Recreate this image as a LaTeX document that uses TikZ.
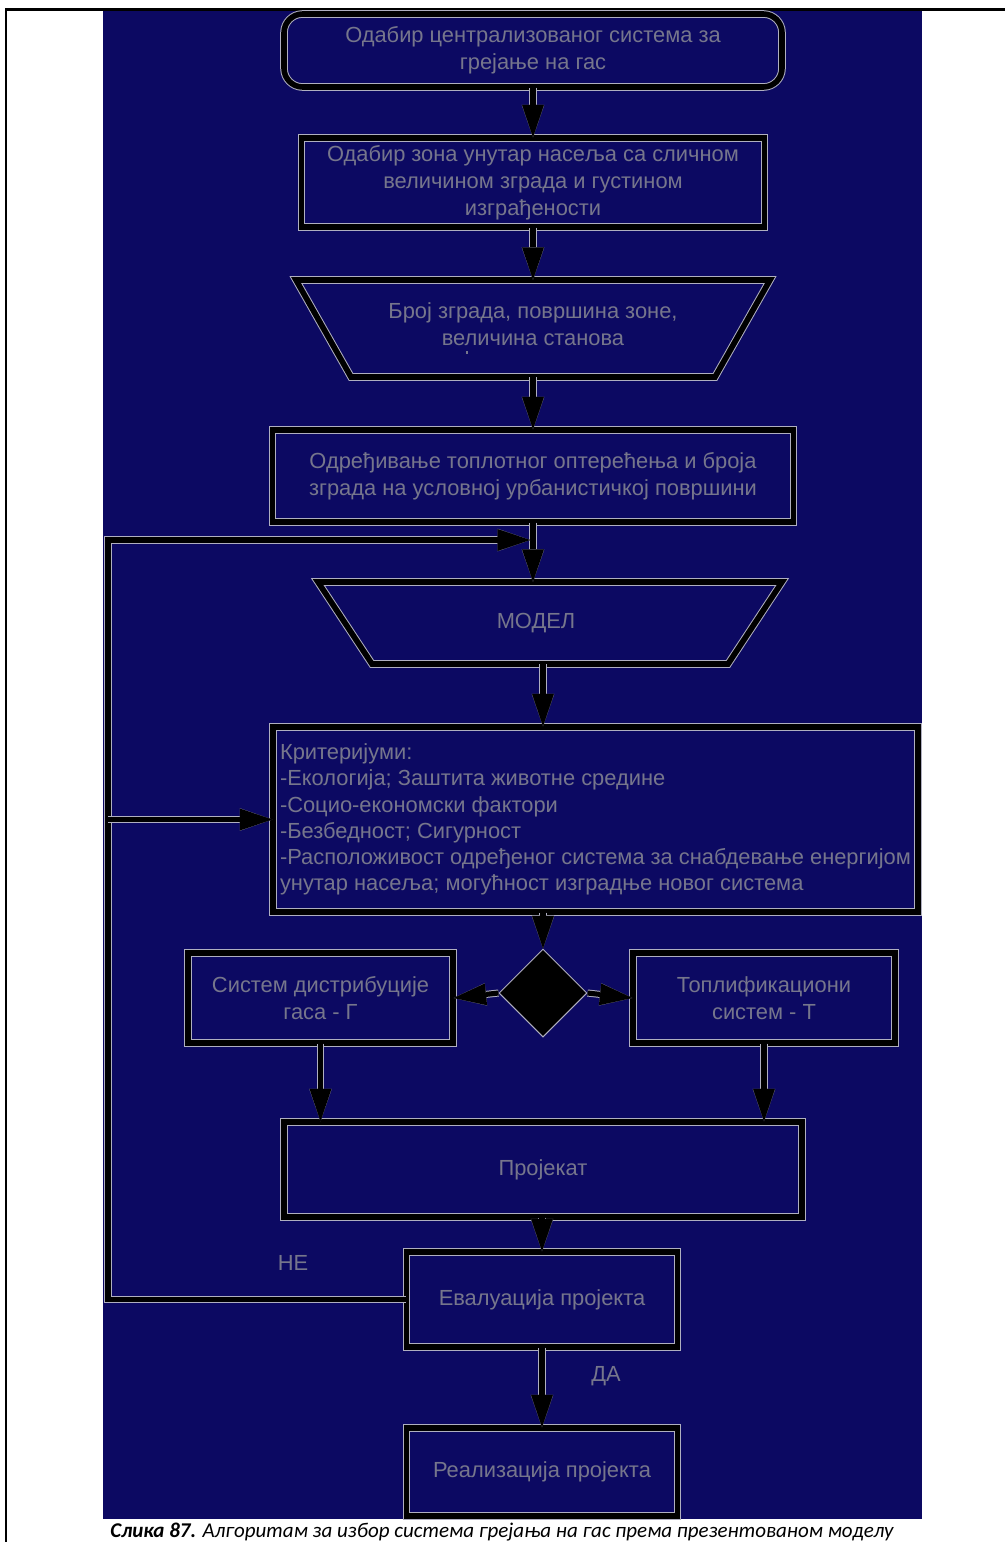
\documentclass[tikz,border=0pt]{standalone}
\usepackage{fontspec}
\setmainfont{Liberation Sans}
\newfontfamily\capfont{Carlito}
\usetikzlibrary{arrows.meta,shapes.geometric,calc}
\definecolor{navy}{RGB}{12,9,98}
\definecolor{edgegray}{RGB}{175,175,192}
\definecolor{txt}{RGB}{118,118,140}
\begin{document}
\begin{tikzpicture}[x=0.75pt,y=-0.75pt,
  outline/.style={draw=edgegray, line width=0.75pt, double=black, double distance=4.2pt},
  box/.style={outline, text=txt, align=center, inner sep=0pt, font=\fontsize{16.4}{20.4}\selectfont},
  rbox/.style={box, rounded corners=14pt},
  lbl/.style={text=txt, inner sep=0pt, align=center, font=\fontsize{16.4}{20.4}\selectfont},
  dec/.style={diamond, fill=black, draw=edgegray, line width=0.75pt, inner sep=0pt,
    minimum width=88*0.75pt, minimum height=88*0.75pt},
  conn/.style={draw=black, line width=3.8pt,
    -{Triangle[length=24.5pt,width=16.5pt,line width=0.1pt]},
    preaction={draw=edgegray, line width=5.3pt,
      -{Triangle[length=24.5pt,width=16.5pt,line width=1.5pt]}}}
]
\useasboundingbox (0,0) rectangle (1005,1542);
\fill[white] (0,0) rectangle (1005,1542);
\fill[navy] (103,10.5) rectangle (922,1519);
\draw[line width=1.7pt] (1005,9.5) -- (6,9.5) -- (6,1542);

% nodes
\node[rbox, minimum width=498*0.75pt, minimum height=73*0.75pt] (start) at (533,50.5)
  {Одабир централизованог система за\\грејање на гас};
\node[box, minimum width=463*0.75pt, minimum height=89*0.75pt] (zone) at (533,182.5)
  {Одабир зона унутар насеља са сличном\\величином зграда и густином\\изграђености};

% input trapezoid
\coordinate (inTop) at (533,280);
\coordinate (inBot) at (533,377);
\draw[outline] (296,280) -- (770,280) -- (715,377) -- (351,377) -- cycle;
\node[lbl] (inputtxt) at (533,324) {Број зграда, површина зоне,\\величина станова};
\fill[txt] (466,351) rectangle (468,354);

\node[box, minimum width=521*0.75pt, minimum height=92*0.75pt] (load) at (533,476)
  {Одређивање топлотног оптерећења и броја\\зграда на условној урбанистичкој површини};

% model trapezoid
\coordinate (mdTop) at (533,582);
\coordinate (mdBot) at (543,664);
\draw[outline] (318,582) -- (782,582) -- (728,664) -- (372,664) -- cycle;
\node[lbl] (modeltxt) at (536,623) {МОДЕЛ};

\node[box, align=left, minimum width=645*0.75pt, minimum height=185*0.75pt,
  font=\fontsize{16.4}{19.6}\selectfont] (crit) at (595.5,819.5)
  {Критеријуми:\\-Екологија; Заштита животне средине\\-Социо-економски фактори\\-Безбедност; Сигурност\\-Расположивост одређеног система за снабдевање енергијом\\унутар насеља; могућност изградње новог система};
\node[dec] (dia) at (543,993) {};
\node[box, minimum width=265*0.75pt, minimum height=90*0.75pt] (gas) at (320.5,998)
  {Систем дистрибуције\\гаса - Г};
\node[box, minimum width=262*0.75pt, minimum height=90*0.75pt] (heat) at (764,998)
  {Топлификациони\\систем - Т};
\node[box, minimum width=518*0.75pt, minimum height=95*0.75pt] (proj) at (543,1169.5)
  {Пројекат};
\node[box, minimum width=271*0.75pt, minimum height=95*0.75pt] (eval) at (542,1299.5)
  {Евалуација пројекта};
\node[box, minimum width=271*0.75pt, minimum height=88*0.75pt] (real) at (542,1472)
  {Реализација пројекта};
\node[lbl] (ne) at (293,1263) {НЕ};
\node[lbl] (da) at (606,1376) {ДА};

% connectors
\draw[conn] (start) -- (zone);
\draw[conn] (zone) -- (inTop);
\draw[conn] (inBot) -- (load);
\draw[conn] (load.south) -- (mdTop);
\draw[conn] (mdBot) -- (crit.north -| dia.north);
\draw[conn] (crit.south -| dia.north) -- (dia.north);
\draw[conn] (dia.west) -- (gas.east);
\draw[conn] (dia.east) -- (heat.west);
\draw[conn] (gas.south) -- (gas.south |- proj.north);
\draw[conn] (heat.south) -- (heat.south |- proj.north);
\draw[conn] (proj.south -| eval.north) -- (eval.north);
\draw[conn] (eval) -- (real);
\coordinate (c1) at (108,540);
\coordinate (m1) at (load.south |- c1);
\coordinate (c2) at (c1 |- crit.west);
\draw[conn, shorten >=2pt] (eval.west) -| (c1) -- (m1);
\draw[conn] (c2) -- (crit.west);

% caption
\node[anchor=base, inner sep=0pt, font=\capfont\fontsize{15.75}{18}\selectfont\itshape] (cap) at (502,1537)
  {\textbf{Слика 87.} Алгоритам за избор система грејања на гас према презентованом моделу};
\end{tikzpicture}
\end{document}
